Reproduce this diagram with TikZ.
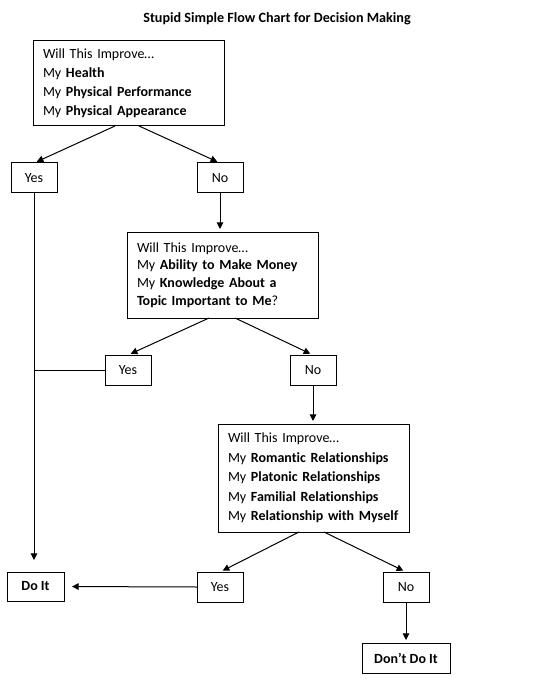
\documentclass[tikz,border=0pt]{standalone}
\usepackage{fontspec}
\setmainfont{Carlito}[Ligatures=CommonOff]
\usetikzlibrary{arrows.meta}
\begin{document}
\begin{tikzpicture}[x=0.75pt,y=-0.75pt,
  font=\fontsize{10.5pt}{14.25pt}\selectfont,
  every node/.style={inner sep=0pt, outer sep=0pt},
  bigbox/.style={draw, line width=0.75pt, minimum width=143.25pt, text width=128.25pt, align=left,
    execute at begin node={\hyphenpenalty=10000\exhyphenpenalty=10000\hbadness=10000\hfuzz=20pt}},
  smallbox/.style={draw, line width=0.75pt, minimum width=34.5pt, minimum height=22.5pt, align=center},
  conn/.style={line width=0.75pt},
  arr/.style={conn, -{Triangle[length=5pt,width=5pt]}, shorten >=2.25pt}]
\useasboundingbox (0,0) rectangle (540,684);
\node[font=\fontsize{10.6pt}{13pt}\selectfont\bfseries] (title) at (277,19) {Stupid Simple Flow Chart for Decision Making};

\node[bigbox, minimum height=63.75pt] (b1) at (128.5,83.5) {Will This Improve…\\My \textbf{Health}\\My \textbf{Physical Performance}\\My \textbf{Physical Appearance}};
\node[smallbox] (y1) at (34,178) {Yes};
\node[smallbox] (n1) at (220,178) {No};

\node[bigbox, minimum height=64.5pt, font=\fontsize{10.5pt}{13.3pt}\selectfont] (b2) at (222.5,275) {Will This Improve…\\My \textbf{Ability to Make Money}\\My \textbf{Knowledge About a}\\\textbf{Topic Important to Me}?};
\node[smallbox] (y2) at (128,370) {Yes};
\node[smallbox] (n2) at (313,370) {No};

\node[bigbox, minimum height=81pt, font=\fontsize{10.5pt}{14.6pt}\selectfont] (b3) at (313.5,478) {Will This Improve…\\My \textbf{Romantic Relationships}\\My \textbf{Platonic Relationships}\\My \textbf{Familial Relationships}\\My \textbf{Relationship with Myself}};
\node[smallbox] (y3) at (220,587) {Yes};
\node[smallbox] (n3) at (406,587) {No};

\node[smallbox, minimum width=42.75pt, minimum height=21.75pt, font=\fontsize{10.5pt}{13pt}\selectfont\bfseries] (doit) at (35.5,586.5) {Do It};
\node[smallbox, minimum width=66pt, font=\fontsize{10.5pt}{13pt}\selectfont\bfseries] (dont) at (406,658) {Don’t Do It};

\draw[arr] ([xshift=-10.1pt]b1.south) -- (y1.north);
\draw[arr] ([xshift=7.9pt]b1.south) -- (n1.north);
\draw[arr] (n1.south) -- (n1.south |- b2.north);
\draw[arr] ([xshift=-10.1pt]b2.south) -- (y2.north);
\draw[arr] ([xshift=9.4pt]b2.south) -- (n2.north);
\draw[arr] (n2.south) -- (n2.south |- b3.north);
\draw[arr] ([xshift=-10.9pt]b3.south) -- (y3.north);
\draw[arr] ([xshift=7.9pt]b3.south) -- (n3.north);
\draw[arr] (n3.south) -- (dont.north);
\draw[arr, shorten >=9pt] (y1.south) -- (y1.south |- doit.north);
\draw[conn] (y2.west) -- (y1.south |- y2.west);
\draw[arr, shorten >=6pt] (y3.west) -- (doit.east);
\end{tikzpicture}
\end{document}
